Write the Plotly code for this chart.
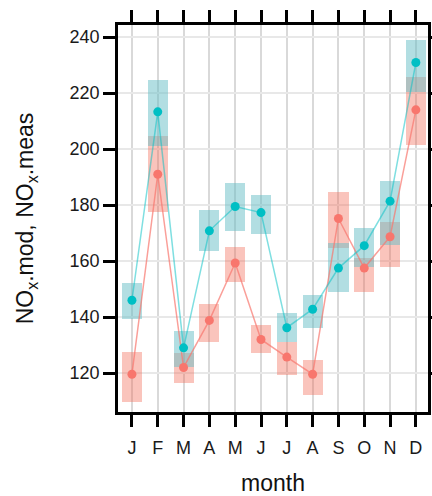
import plotly.graph_objects as go

months = ["J", "F", "M", "A", "M", "J", "J", "A", "S", "O", "N", "D"]
month_idx = list(range(1, 13))

# NOx.mod (red) mean and confidence interval
mod_mean = [119.6, 191.0, 122.0, 138.8, 159.3, 132.0, 125.7, 119.6, 175.2, 157.5, 168.7, 214.0]
mod_lo = [109.7, 177.5, 116.5, 131.0, 152.6, 127.0, 119.4, 112.2, 164.5, 149.0, 158.0, 201.6]
mod_hi = [127.4, 204.8, 127.0, 144.6, 165.0, 137.0, 131.0, 124.6, 184.6, 161.2, 174.0, 225.6]

# NOx.meas (cyan) mean and confidence interval
meas_mean = [146.0, 213.3, 129.0, 170.8, 179.5, 177.3, 136.2, 142.8, 157.5, 165.5, 181.4, 230.9]
meas_lo = [139.3, 201.2, 122.0, 163.6, 170.9, 169.8, 131.0, 136.0, 149.0, 158.0, 165.7, 220.5]
meas_hi = [152.0, 224.6, 135.0, 178.1, 187.8, 183.6, 141.4, 148.0, 166.6, 171.9, 188.7, 239.0]

RED = "#f8766d"
CYAN = "#00bfc4"

fig = go.Figure()

fig.add_trace(go.Bar(
    x=month_idx, y=[h - l for h, l in zip(mod_hi, mod_lo)], base=mod_lo,
    width=0.78, marker=dict(color="rgba(242,112,92,0.41)", line=dict(width=0)),
    showlegend=False, hoverinfo="skip"))
fig.add_trace(go.Bar(
    x=month_idx, y=[h - l for h, l in zip(meas_hi, meas_lo)], base=meas_lo,
    width=0.78, marker=dict(color="rgba(101,189,197,0.5)", line=dict(width=0)),
    showlegend=False, hoverinfo="skip"))

fig.add_trace(go.Scatter(
    x=month_idx, y=mod_mean, mode="lines+markers", name="NOx.mod",
    line=dict(color="rgba(248,118,109,0.7)", width=1.5),
    marker=dict(color=RED, size=9), showlegend=False))
fig.add_trace(go.Scatter(
    x=month_idx, y=meas_mean, mode="lines+markers", name="NOx.meas",
    line=dict(color="rgba(0,191,196,0.5)", width=1.5),
    marker=dict(color=CYAN, size=9), showlegend=False))

tickfont = dict(family="Liberation Sans, Arial, sans-serif", size=18, color="#1a1a1a")
titlefont = dict(family="Liberation Sans, Arial, sans-serif", size=23, color="#111111")

fig.update_layout(
    width=432, height=496,
    margin=dict(l=118, r=4, t=25, b=84),
    paper_bgcolor="white", plot_bgcolor="white",
    barmode="overlay", bargap=0,
    xaxis=dict(
        range=[0.46, 12.47], tickmode="array", tickvals=month_idx, ticktext=months,
        showgrid=True, gridcolor="#d9d9d9", gridwidth=2,
        showline=True, linecolor="black", linewidth=2.5, mirror="ticks",
        ticks="outside", ticklen=12, tickwidth=2.5, tickcolor="black",
        tickfont=tickfont, zeroline=False, ticklabelstandoff=6, automargin=False,
        title=dict(text="month", font=titlefont, standoff=27),
    ),
    yaxis=dict(
        range=[106.1, 244.3], tickmode="array", tickvals=[120, 140, 160, 180, 200, 220, 240],
        showgrid=True, gridcolor="#e8e8e8", gridwidth=2,
        showline=True, linecolor="black", linewidth=2.5, mirror="ticks",
        ticks="outside", ticklen=12, tickwidth=2.5, tickcolor="black",
        tickfont=tickfont, zeroline=False, automargin=False,
        title=dict(text="NO<sub>x</sub>.mod, NO<sub>x</sub>.meas", font=titlefont, standoff=30),
    ),
)

fig.write_html("out.html")
